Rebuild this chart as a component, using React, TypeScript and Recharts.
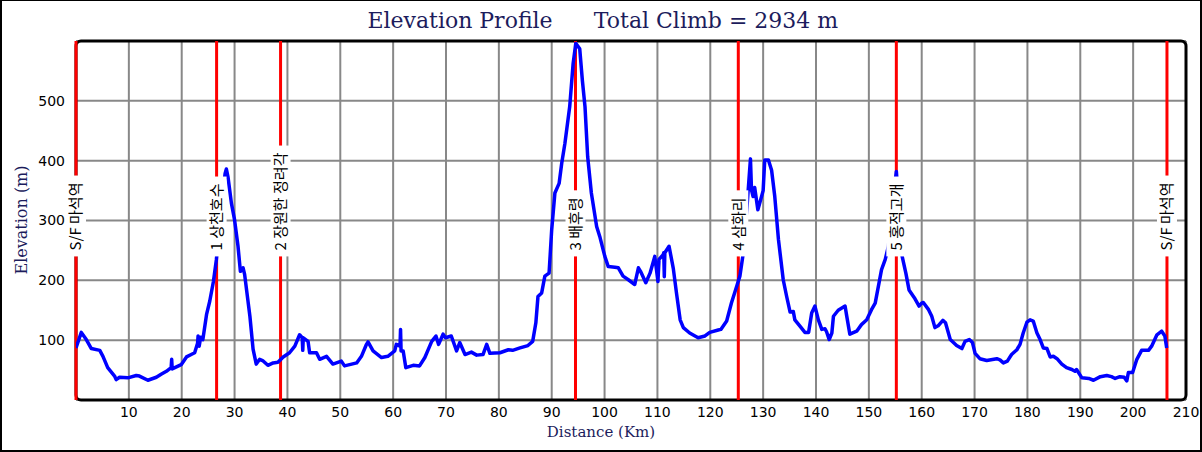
import React, { useLayoutEffect, useRef, useState } from 'react'
import { LineChart, Line, XAxis, YAxis, CartesianGrid, ReferenceLine, ReferenceArea } from 'recharts'

const W = 1202
const H = 452
const NAVY = '#1c1c5c'

const km = [
  0, 1.0, 1.95, 2.9, 4.5, 5.1, 6.0, 7.3, 7.6, 8.25, 9.8, 11.4, 12.0, 13.6, 15.2, 16.1, 17.1, 18.0, 18.1, 18.2,
  19.9, 20.9, 21.8, 22.45, 23.0, 23.1, 23.3, 23.6, 24.0, 24.7, 25.3, 26.0, 26.55, 27.5, 28.2, 28.45, 28.75, 29.4, 30.0, 30.65,
  31.1, 31.6, 31.9, 32.9, 33.5, 34.1, 34.75, 35.3, 36.3, 37.3, 38.2, 39.2, 40.4, 41.4, 42.3, 42.8, 42.9, 43.0, 43.9, 44.2,
  45.5, 46.1, 47.4, 48.6, 50.2, 50.8, 53.1, 54.0, 54.9, 55.25, 56.2, 57.8, 59.0, 60.3, 60.6, 61.3, 61.4, 61.5, 61.9, 62.4,
  63.8, 65.0, 66.0, 67.3, 68.1, 68.6, 69.45, 69.9, 71.0, 72.0, 72.6, 73.6, 74.8, 75.8, 77.0, 77.7, 78.3, 80.2, 81.8, 82.6,
  84.0, 85.5, 86.4, 87.0, 87.4, 88.1, 88.7, 89.5, 90.0, 90.6, 91.4, 91.9, 92.5, 93.4, 94.05, 94.55, 95.3, 95.8, 96.3, 96.8,
  97.5, 98.5, 99.1, 100.05, 100.7, 101.95, 102.6, 103.5, 104.5, 105.7, 106.4, 106.8, 107.8, 108.6, 109.5, 110.1, 110.3, 111.1, 111.2, 111.3,
  111.4, 112.2, 113.0, 113.6, 114.3, 114.9, 116.1, 117.7, 119.0, 119.9, 121.5, 122.0, 123.1, 124.0, 125.0, 125.6, 126.2, 127.0, 127.6, 127.8,
  128.1, 128.4, 129.0, 129.7, 130.0, 130.3, 131.0, 131.6, 132.2, 132.9, 133.8, 134.45, 135.1, 135.7, 136.0, 137.0, 137.9, 138.6, 139.2, 139.8,
  140.45, 141.1, 141.7, 142.0, 142.5, 143.0, 143.3, 144.2, 145.5, 145.8, 146.4, 147.7, 148.6, 149.6, 150.5, 151.2, 151.8, 152.4, 153.1, 153.7,
  154.5, 155.2, 155.8, 156.3, 157.0, 157.6, 158.6, 159.5, 160.0, 160.3, 161.3, 161.9, 162.5, 163.1, 164.0, 164.5, 165.4, 166.6, 167.6, 168.2,
  169.0, 169.6, 170.1, 171.0, 172.3, 174.2, 174.8, 175.45, 176.2, 177.0, 178.0, 178.6, 179.2, 179.9, 180.5, 181.1, 181.8, 182.4, 183.0, 183.7,
  184.3, 184.9, 185.6, 186.5, 187.4, 188.4, 189.0, 189.3, 190.3, 191.6, 192.5, 193.8, 195.0, 195.9, 196.6, 197.5, 198.3, 198.8, 199.1, 199.9,
  200.7, 201.0, 201.6, 202.9, 203.5, 204.5, 205.4, 206.0, 206.35,
]

const elevation = [
  87, 113, 101, 86, 83, 73, 54, 40, 34, 38, 37, 41, 40, 33, 38, 43, 48, 54, 68, 52,
  59, 72, 76, 79, 95, 107, 90, 105, 101, 143, 165, 198, 234, 320, 378, 386, 373, 329, 301, 257,
  215, 221, 210, 140, 85, 60, 68, 66, 58, 62, 63, 72, 79, 90, 109, 104, 83, 104, 98, 79,
  79, 68, 73, 60, 65, 57, 62, 73, 92, 97, 82, 71, 73, 82, 93, 90, 118, 82, 82, 54,
  58, 57, 71, 98, 107, 93, 110, 104, 107, 82, 96, 76, 80, 75, 76, 93, 78, 79, 84, 83,
  87, 91, 98, 129, 173, 179, 207, 212, 285, 346, 362, 396, 429, 490, 562, 596, 587, 534, 490, 407,
  346, 290, 273, 240, 223, 222, 221, 207, 201, 193, 221, 215, 196, 212, 240, 198, 235, 243, 246, 206,
  246, 257, 220, 179, 134, 121, 112, 104, 107, 113, 117, 118, 132, 162, 190, 207, 243, 330, 403, 351,
  340, 355, 318, 340, 350, 401, 401, 384, 340, 268, 201, 173, 147, 148, 134, 123, 113, 113, 146, 157,
  134, 118, 119, 114, 101, 112, 140, 150, 157, 141, 110, 115, 126, 134, 151, 162, 190, 218, 235, 257,
  330, 382, 310, 240, 212, 184, 171, 157, 162, 163, 151, 140, 121, 124, 133, 129, 101, 91, 86, 98,
  101, 96, 78, 69, 66, 69, 67, 62, 65, 76, 84, 93, 112, 130, 134, 132, 112, 101, 87, 86,
  72, 73, 69, 60, 54, 51, 48, 51, 37, 36, 33, 39, 41, 39, 36, 39, 38, 32, 46, 46,
  68, 73, 83, 83, 90, 109, 115, 107, 87,
]

const markerKm = [0, 26.6, 38.7, 94.5, 125.3, 155.2, 206.4]
const markerNames = ['S/F 마석역', '1 상천호수', '2 장원한 정려각', '3 배후령', '4 삼화리', '5 홍적고개', 'S/F 마석역']

const xTicks = [10, 20, 30, 40, 50, 60, 70, 80, 90, 100, 110, 120, 130, 140, 150, 160, 170, 180, 190, 200, 210]
const yTicks = [100, 200, 300, 400, 500]

const data = km.map((k, i) => ({ km: k, elev: elevation[i] }))

function MarkerLabel(props: any) {
  const { viewBox, text } = props
  const ref = useRef<SVGTextElement>(null)
  const [len, setLen] = useState(0)
  useLayoutEffect(() => {
    if (ref.current) setLen(ref.current.getComputedTextLength())
  }, [text])
  if (!viewBox) return null
  const x = viewBox.x
  const y = viewBox.y + viewBox.height * (1 - 250 / 600)
  return (
    <g transform={`translate(${x},${y}) rotate(-90)`}>
      <rect x={-6} y={-10} width={len + 13} height={20} fill="#fff" />
      <text ref={ref} x={0} y={0} dy="0.36em" fontSize={15} fontFamily="'Noto Sans CJK KR', 'DejaVu Sans', sans-serif" fill="#000">
        {text}
      </text>
    </g>
  )
}

export default function App() {
  const tickStyle = { fontSize: 14, fontFamily: 'DejaVu Sans, sans-serif', fill: '#000' }
  return (
    <div style={{ position: 'absolute', left: 0, top: 0, width: W, height: H, background: '#fff' }}>
      <LineChart width={W} height={H} data={data} margin={{ top: 41, right: 16, left: 0, bottom: 0 }}>
        <CartesianGrid stroke="#888" strokeWidth={2} />
        <XAxis
          dataKey="km"
          type="number"
          domain={[0, 210]}
          ticks={xTicks}
          height={52}
          axisLine={false}
          tickLine={false}
          tickSize={6}
          tickMargin={1}
          tick={tickStyle}
          allowDataOverflow
        />
        <YAxis
          type="number"
          domain={[0, 600]}
          ticks={yTicks}
          width={76}
          axisLine={false}
          tickLine={false}
          tickSize={6}
          tickMargin={5}
          tick={tickStyle}
          allowDataOverflow
        />
        <ReferenceArea x1={0} x2={210} y1={0} y2={600} fill="none" stroke="#000" strokeWidth={3} radius={5} ifOverflow="visible" />
        {markerKm.map((m, i) => (
          <ReferenceLine key={'r' + i} x={m} stroke="#ff0000" strokeWidth={3} ifOverflow="visible" />
        ))}
        <Line
          type="linear"
          dataKey="elev"
          stroke="#0000ff"
          strokeWidth={3.5}
          dot={false}
          activeDot={false}
          strokeLinejoin="round"
          isAnimationActive={false}
        />
        {markerKm.map((m, i) => (
          <ReferenceLine key={'l' + i} x={m} stroke="none" ifOverflow="visible" label={<MarkerLabel text={markerNames[i]} />} />
        ))}
        <text x={460} y={28} textAnchor="middle" fontSize={22} fontFamily="'DejaVu Serif', serif" fill={NAVY}>
          Elevation Profile
        </text>
        <text x={716} y={28} textAnchor="middle" fontSize={22} fontFamily="'DejaVu Serif', serif" fill={NAVY}>
          Total Climb = 2934 m
        </text>
        <text x={W / 2} y={437} textAnchor="middle" fontSize={15} fontFamily="'DejaVu Serif', serif" fill={NAVY}>
          Distance (Km)
        </text>
        <text
          transform="translate(27,220) rotate(-90)"
          textAnchor="middle"
          fontSize={16}
          fontFamily="'DejaVu Serif', serif"
          fill={NAVY}
        >
          Elevation (m)
        </text>
      </LineChart>
      <div
        style={{
          position: 'absolute',
          left: 0,
          top: 0,
          width: W,
          height: H,
          boxSizing: 'border-box',
          borderStyle: 'solid',
          borderColor: '#000',
          borderWidth: '1px 2px 2px 2px',
          pointerEvents: 'none',
        }}
      />
    </div>
  )
}
